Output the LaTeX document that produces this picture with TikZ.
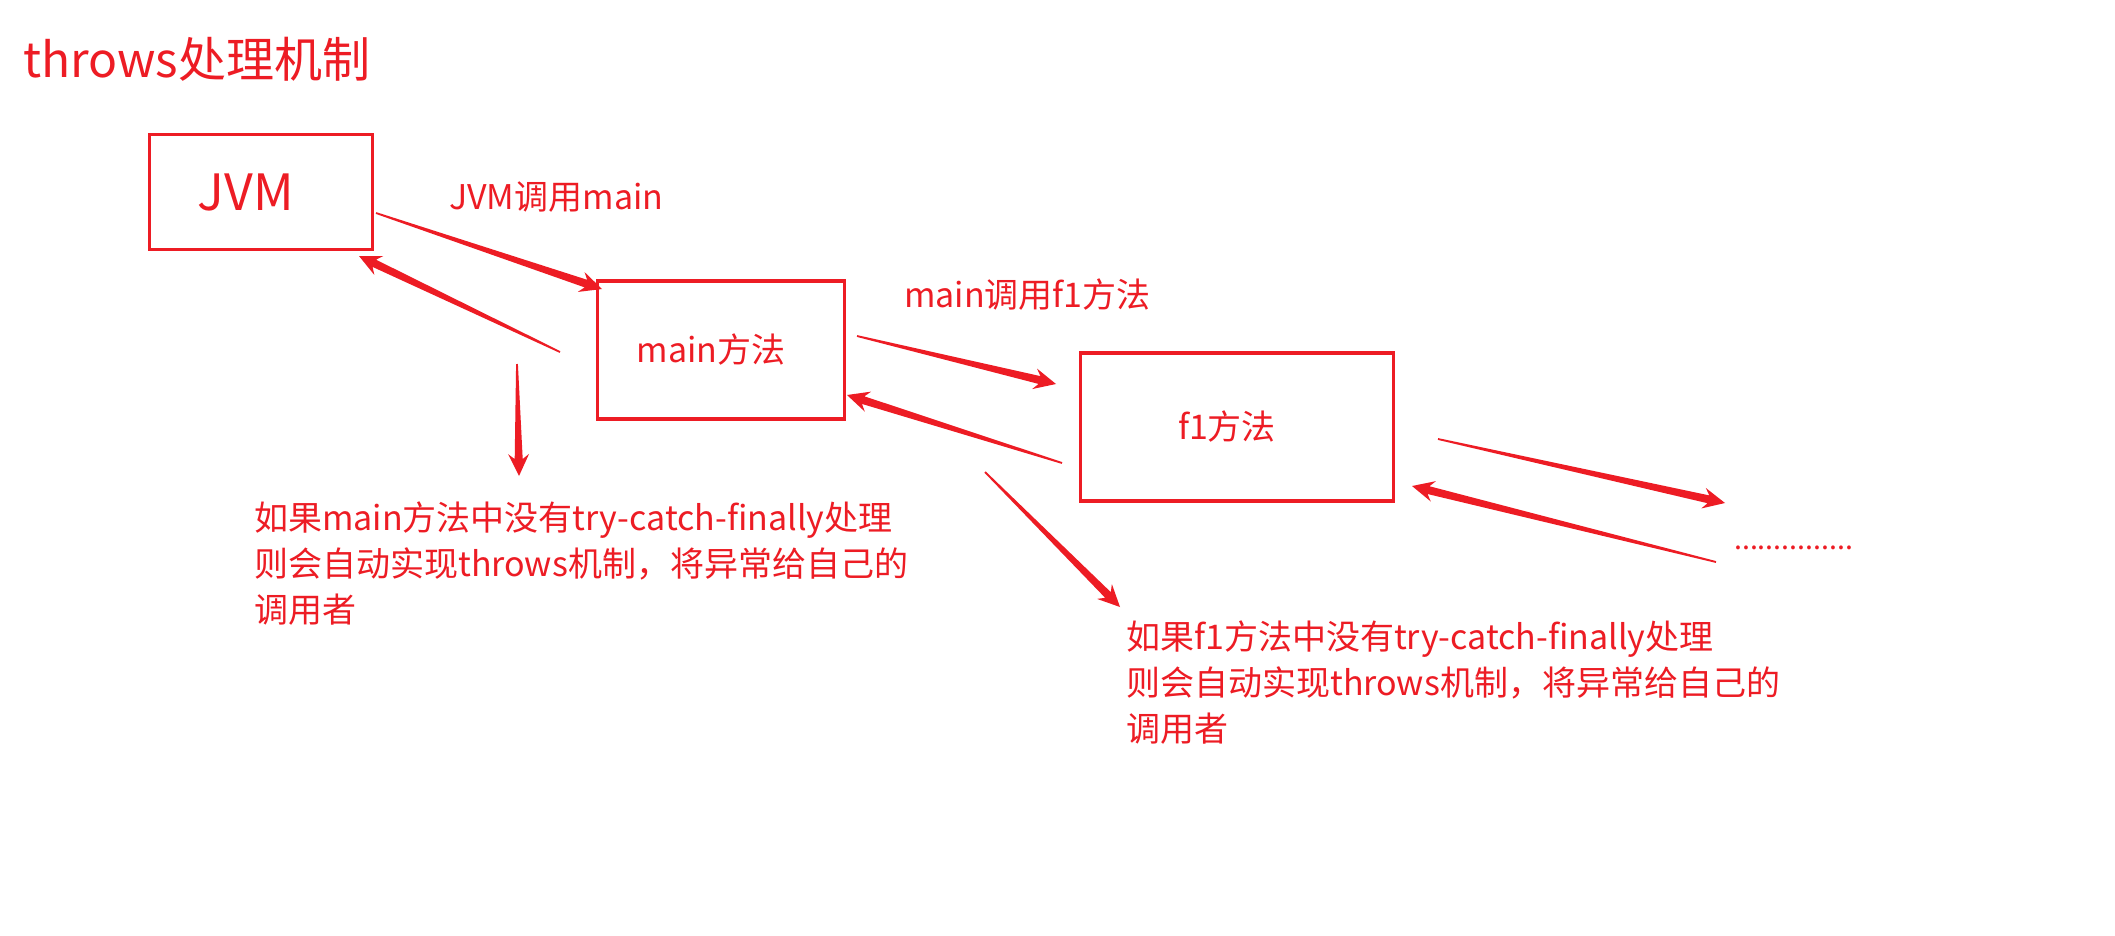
\documentclass[tikz,border=0pt]{standalone}
\usepackage{fontspec}
\setmainfont{Noto Sans CJK SC}
\usetikzlibrary{calc, positioning}
\definecolor{penred}{HTML}{ED1C24}
% tapered pen arrow from #1 to #2
\newcommand{\taper}[2]{%
  \path ($(#2)!17pt!(#1)$) coordinate (tp-s) ($(#2)!22pt!(#1)$) coordinate (tp-b);
  \fill[penred] ($(#1)!0.9pt!90:(#2)$) -- ($(tp-s)!4pt!90:(#2)$) -- ($(tp-b)!10.5pt!90:(#2)$)
    -- (#2) -- ($(tp-b)!10.5pt!-90:(#2)$) -- ($(tp-s)!4pt!-90:(#2)$) -- ($(#1)!0.9pt!-90:(#2)$) -- cycle;}

\begin{document}
\begin{tikzpicture}[
    x=1pt, y=-1pt,
    box/.style={draw=penred, line width=3.5pt, text=penred, inner sep=0pt},
    lbl/.style={text=penred, inner sep=0pt, font=\fontsize{34}{46}\selectfont},
    note/.style={lbl, align=left, anchor=north west},
]
\useasboundingbox[fill=white] (0,0) rectangle (2115,935);
% === Title ===
\node[lbl, anchor=west, font=\fontsize{48}{54}\selectfont] (title) at (23,59) {throws处理机制};
% === Boxes ===
\node[box, minimum width=223pt, minimum height=115pt, font=\fontsize{50}{56}\selectfont] (jvm) at (261,192) {\hspace*{-30pt}JVM};
\node[box, minimum width=247pt, minimum height=138pt, font=\fontsize{34}{40}\selectfont] (main) at (721,350) {\hspace*{-20pt}main方法};
\node[box, minimum width=313pt, minimum height=148pt, font=\fontsize{34}{40}\selectfont] (f1) at (1237,427) {\hspace*{-20pt}\raisebox{-7pt}{f1方法}};
% === Labels ===
\node[lbl, anchor=west] (call1) at (449,197) {JVM调用main};
\node[lbl, anchor=west] (call2) at (904,295) {main调用f1方法};
\node[lbl, anchor=base west, font=\fontsize{28.5}{36}\selectfont] (dots) at (1734,549) {...............};
\node[note] (note1) at (254,502) {如果main方法中没有try-catch-finally处理\\则会自动实现throws机制，将异常给自己的\\调用者};
\node[note] (note2) at (1126,621) {如果f1方法中没有try-catch-finally处理\\则会自动实现throws机制，将异常给自己的\\调用者};
% === Arrow ends ===
\coordinate (a1s) at (376,213);  \coordinate (a1e) at (602,289);
\coordinate (a2s) at (560,352);  \coordinate (a2e) at (359,256);
\coordinate (a3s) at (517,364);  \coordinate (a3e) at (519,476);
\coordinate (a4s) at (857,336);  \coordinate (a4e) at (1056,384);
\coordinate (a5s) at (1062,463); \coordinate (a5e) at (847,395);
\coordinate (a6s) at (985,472);  \coordinate (a6e) at (1120,607);
\coordinate (a7s) at (1438,439); \coordinate (a7e) at (1725,503);
\coordinate (a8s) at (1716,562); \coordinate (a8e) at (1412,486);
% === Arrows ===
\taper{a1s}{a1e}
\taper{a2s}{a2e}
\taper{a3s}{a3e}
\taper{a4s}{a4e}
\taper{a5s}{a5e}
\taper{a6s}{a6e}
\taper{a7s}{a7e}
\taper{a8s}{a8e}
\end{tikzpicture}
\end{document}
